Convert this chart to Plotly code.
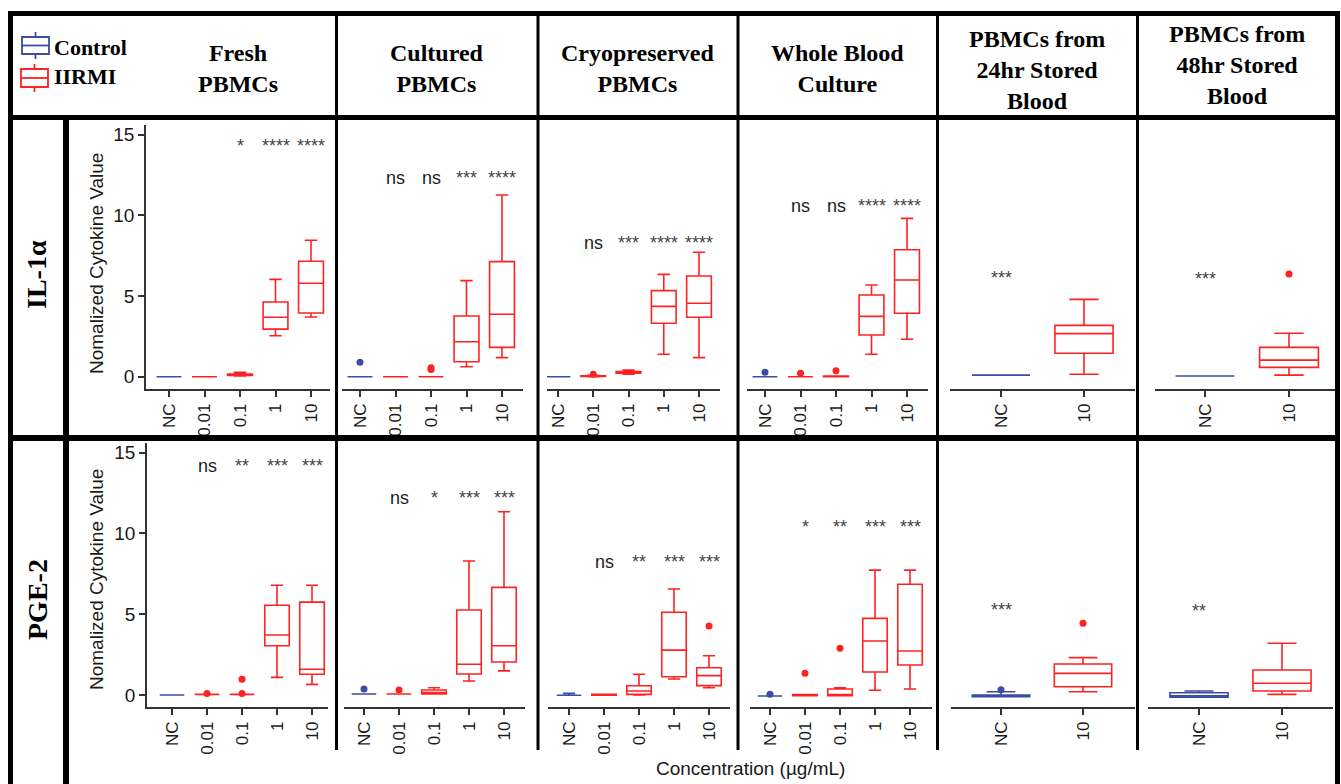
import plotly.graph_objects as go

W, H = 1341, 784

# ---------------- categories and labels ----------------
conc_full = ["NC", "0.01", "0.1", "1", "10"]
conc_short = ["NC", "10"]
sample_types = [["Fresh", "PBMCs"], ["Cultured", "PBMCs"], ["Cryopreserved", "PBMCs"],
                ["Whole Blood", "Culture"], ["PBMCs from", "24hr Stored", "Blood"],
                ["PBMCs from", "48hr Stored", "Blood"]]
cytokines = ["IL-1α", "PGE-2"]
group_names = ["Control", "IIRMI"]

# ---------------- box summaries ----------------
# one row per concentration: [lower whisker, Q1, median, Q3, upper whisker]
il1a_fresh = [[0, 0, 0, 0, 0], [0, 0, 0, 0, 0], [0.05, 0.07, 0.12, 0.17, 0.27],
              [2.54, 2.95, 3.68, 4.63, 6.03], [3.70, 3.95, 5.79, 7.15, 8.45]]
il1a_cultured = [[0, 0, 0, 0, 0], [0, 0, 0, 0, 0], [0, 0, 0, 0, 0],
                 [0.62, 0.93, 2.17, 3.76, 5.95], [1.18, 1.82, 3.87, 7.13, 11.26]]
il1a_cryo = [[0, 0, 0, 0, 0], [0, 0.02, 0.04, 0.06, 0.08], [0.15, 0.22, 0.27, 0.32, 0.41],
             [1.39, 3.31, 4.36, 5.33, 6.34], [1.18, 3.68, 4.55, 6.24, 7.71]]
il1a_whole = [[0, 0, 0, 0, 0], [0, 0, 0, 0, 0], [0, 0, 0, 0.04, 0.04],
              [1.39, 2.58, 3.74, 5.06, 5.68], [2.32, 3.93, 5.99, 7.87, 9.81]]
il1a_24hr = [[0.1, 0.1, 0.1, 0.1, 0.1], [0.15, 1.45, 2.67, 3.18, 4.79]]
il1a_48hr = [[0.04, 0.04, 0.04, 0.04, 0.04], [0.10, 0.58, 1.03, 1.82, 2.69]]

pge2_fresh = [[0, 0, 0, 0, 0], [0.04, 0.04, 0.04, 0.04, 0.04], [0.04, 0.04, 0.04, 0.04, 0.04],
              [1.09, 3.05, 3.71, 5.55, 6.79], [0.66, 1.28, 1.59, 5.75, 6.79]]
pge2_cultured = [[0.06, 0.06, 0.06, 0.06, 0.06], [0.06, 0.06, 0.06, 0.06, 0.06],
                 [0.06, 0.06, 0.15, 0.31, 0.45],
                 [0.87, 1.30, 1.90, 5.26, 8.29], [1.49, 2.04, 3.05, 6.66, 11.34]]
pge2_cryo = [[-0.02, -0.02, -0.02, -0.02, 0.1], [-0.02, -0.02, 0, 0.05, 0.05],
             [0, 0.04, 0.25, 0.57, 1.28],
             [0.99, 1.13, 2.78, 5.12, 6.56], [0.45, 0.58, 1.20, 1.69, 2.43]]
pge2_whole = [[-0.06, -0.06, -0.06, -0.06, -0.06], [-0.05, -0.05, 0, 0.03, 0.03],
              [-0.04, -0.04, 0.02, 0.37, 0.45],
              [0.29, 1.42, 3.34, 4.74, 7.73], [0.37, 1.86, 2.72, 6.85, 7.73]]
pge2_24hr = [[-0.1, -0.1, -0.06, 0.0, 0.2], [0.2, 0.51, 1.34, 1.92, 2.31]]
pge2_48hr = [[-0.14, -0.14, -0.05, 0.14, 0.25], [0.04, 0.25, 0.73, 1.55, 3.20]]

# ---------------- outlying points: (concentration, value) ----------------
il1a_fresh_out = []
il1a_cultured_out = [("NC", 0.89), ("0.1", 0.45), ("0.1", 0.55)]
il1a_cryo_out = [("0.01", 0.15)]
il1a_whole_out = [("NC", 0.27), ("0.01", 0.21), ("0.1", 0.37)]
il1a_24hr_out = []
il1a_48hr_out = [("10", 6.36)]

pge2_fresh_out = [("0.01", 0.1), ("0.1", 0.1), ("0.1", 0.97)]
pge2_cultured_out = [("NC", 0.37), ("0.01", 0.31)]
pge2_cryo_out = [("10", 4.27)]
pge2_whole_out = [("NC", 0.04), ("0.01", 1.34), ("0.1", 2.89)]
pge2_24hr_out = [("NC", 0.33), ("10", 4.44)]
pge2_48hr_out = []

# ---------------- significance labels and their heights ----------------
il1a_sig = [["", "", "*", "****", "****"], ["", "ns", "ns", "***", "****"],
            ["", "ns", "***", "****", "****"], ["", "ns", "ns", "****", "****"],
            ["***", ""], ["***", ""]]
il1a_sig_y = [14.32, 12.31, 8.30, 10.59, 6.13, 6.03]
pge2_sig = [["", "ns", "**", "***", "***"], ["", "ns", "*", "***", "***"],
            ["", "ns", "**", "***", "***"], ["", "*", "**", "***", "***"],
            ["***", ""], ["**", ""]]
pge2_sig_y = [14.17, 12.17, 8.25, 10.38, 5.26, 5.20]

panels = [
    [il1a_fresh, il1a_cultured, il1a_cryo, il1a_whole, il1a_24hr, il1a_48hr],
    [pge2_fresh, pge2_cultured, pge2_cryo, pge2_whole, pge2_24hr, pge2_48hr],
]
outliers = [
    [il1a_fresh_out, il1a_cultured_out, il1a_cryo_out, il1a_whole_out, il1a_24hr_out, il1a_48hr_out],
    [pge2_fresh_out, pge2_cultured_out, pge2_cryo_out, pge2_whole_out, pge2_24hr_out, pge2_48hr_out],
]
sig_labels = [il1a_sig, pge2_sig]
sig_heights = [il1a_sig_y, pge2_sig_y]

# ---------------- styling / geometry (pixels) ----------------
BLUE = "#3b4ca2"
RED = "#ff2222"
AXIS = "#333333"
TXT = "#1a1a1a"

row_plot_y = [(125, 389), (443, 707)]             # top / bottom of each row's plot area
row_zero = [(376.7, 16.14), (695.0, 16.16)]        # pixel of y=0 and pixels per unit
panel_x = [[(146, 330), (342, 523), (547, 720), (747, 928), (950, 1135), (1155, 1335)],
           [(147, 328), (344, 525), (548, 730), (750, 932), (951, 1135), (1148, 1333)]]
tick_span = [[(169, 311), (360, 502), (558, 699), (765, 907), (1001, 1084), (1205, 1289)],
             [(172, 312), (364, 504), (569, 709), (770, 910), (1001, 1083), (1199, 1282)]]


def px(x):
    return x / W


def py(y):
    return 1 - y / H


def paper_text(x, y, text, size, family="Arial", angle=0, xanchor="center", color=TXT):
    return dict(x=px(x), y=py(y), xref="paper", yref="paper", text=text,
                xanchor=xanchor, yanchor="middle", textangle=angle, showarrow=False,
                font=dict(family=family, size=size, color=color))


fig = go.Figure()
layout = dict(
    width=W, height=H, margin=dict(l=0, r=0, t=0, b=0),
    paper_bgcolor="white", plot_bgcolor="white", showlegend=False,
    shapes=[], annotations=[],
)

k = 0
for r in range(2):
    top, bot = row_plot_y[r]
    zero, ppu = row_zero[r]
    yr = [(zero - bot) / ppu, (zero - top) / ppu]
    for c in range(6):
        k += 1
        xa = "x" if k == 1 else f"x{k}"
        ya = "y" if k == 1 else f"y{k}"
        cats = conc_full if c < 4 else conc_short
        stats = panels[r][c]

        # control (NC) and treated boxes
        for names, rows_, col in ((cats[:1], stats[:1], BLUE), (cats[1:], stats[1:], RED)):
            fig.add_trace(go.Box(
                x=names,
                lowerfence=[s[0] for s in rows_], q1=[s[1] for s in rows_],
                median=[s[2] for s in rows_], q3=[s[3] for s in rows_],
                upperfence=[s[4] for s in rows_],
                line=dict(color=col, width=1.6), fillcolor="white",
                width=0.7, xaxis=xa, yaxis=ya, hoverinfo="skip",
            ))
        # outlying points
        for col, keep in ((BLUE, lambda n: n == "NC"), (RED, lambda n: n != "NC")):
            pts = [p for p in outliers[r][c] if keep(p[0])]
            if pts:
                fig.add_trace(go.Scatter(
                    x=[p[0] for p in pts], y=[p[1] for p in pts], mode="markers",
                    marker=dict(color=col, size=7), xaxis=xa, yaxis=ya, hoverinfo="skip",
                ))

        x0, x1 = panel_x[r][c]
        f, l = tick_span[r][c]
        s = (l - f) / (len(cats) - 1)
        xkey = "xaxis" if k == 1 else f"xaxis{k}"
        ykey = "yaxis" if k == 1 else f"yaxis{k}"
        layout[xkey] = dict(
            domain=[px(x0), px(x1)], anchor=ya, type="category",
            categoryorder="array", categoryarray=cats,
            range=[(x0 - f) / s, (x1 - f) / s],
            showline=True, linecolor=AXIS, linewidth=1.5, mirror=False,
            ticks="outside", ticklen=6, tickwidth=1.5, tickcolor=AXIS,
            tickangle=-90, tickfont=dict(family="Arial", size=17, color=TXT),
            showgrid=False, zeroline=False,
        )
        ycfg = dict(domain=[py(bot), py(top)], anchor=xa, range=yr,
                    showgrid=False, zeroline=False)
        if c == 0:
            ycfg.update(showline=True, linecolor=AXIS, linewidth=1.5,
                        ticks="outside", ticklen=6, tickwidth=1.5, tickcolor=AXIS,
                        tickvals=[0, 5, 10, 15],
                        tickfont=dict(family="Arial", size=19, color=TXT))
        else:
            ycfg.update(visible=False)
        layout[ykey] = ycfg

        # significance labels
        for i, lab in enumerate(sig_labels[r][c]):
            if lab:
                layout["annotations"].append(dict(
                    x=i, y=sig_heights[r][c], xref=xa, yref=ya, text=lab,
                    showarrow=False, xanchor="center", yanchor="middle",
                    font=dict(family="Arial", size=18,
                              color="#222" if lab == "ns" else "#444"),
                ))

# y-axis titles
for yc in (264, 580):
    layout["annotations"].append(paper_text(96, yc, "Nomalized Cytokine Value", 19, angle=-90))

# x-axis title
layout["annotations"].append(paper_text(750, 768, "Concentration (µg/mL)", 19))

# row labels
for lab, yc in zip(cytokines, (275, 600)):
    layout["annotations"].append(paper_text(37, yc, f"<b>{lab}</b>", 28,
                                            family="Liberation Serif", angle=-90, color="black"))

# column headers (one wrapped text block per cell)
head_x = [238, 437, 638, 837, 1037, 1237]
head_y = [69, 69, 68, 68, 70, 65]
for lines, hx, hy in zip(sample_types, head_x, head_y):
    text = "<br>".join(f"<b>{line}</b>" for line in lines)
    layout["annotations"].append(paper_text(hx, hy, text, 24,
                                            family="Liberation Serif", color="black"))

# legend keys
for name, col, (bx0, bx1, by0, by1, ty) in zip(
        group_names, (BLUE, RED), ((22, 49, 37, 54, 47), (21, 48, 69, 87, 77))):
    cx = (bx0 + bx1) / 2
    layout["shapes"] += [
        dict(type="rect", xref="paper", yref="paper", x0=px(bx0), x1=px(bx1),
             y0=py(by1), y1=py(by0), line=dict(color=col, width=1.8), fillcolor="white"),
        dict(type="line", xref="paper", yref="paper", x0=px(bx0), x1=px(bx1),
             y0=py((by0 + by1) / 2), y1=py((by0 + by1) / 2), line=dict(color=col, width=1.8)),
        dict(type="line", xref="paper", yref="paper", x0=px(cx), x1=px(cx),
             y0=py(by0 - 5), y1=py(by0), line=dict(color=col, width=1.8)),
        dict(type="line", xref="paper", yref="paper", x0=px(cx), x1=px(cx),
             y0=py(by1), y1=py(by1 + 5), line=dict(color=col, width=1.8)),
    ]
    layout["annotations"].append(paper_text(52, ty, f"<b>{name}</b>", 22,
                                            family="Liberation Serif", xanchor="left",
                                            color="black"))


# table grid
def hline(y, x0, x1, w):
    return dict(type="line", xref="paper", yref="paper", x0=px(x0), x1=px(x1),
                y0=py(y), y1=py(y), line=dict(color="black", width=w))


def vline(x, y0, y1, w):
    return dict(type="line", xref="paper", yref="paper", x0=px(x), x1=px(x),
                y0=py(y0), y1=py(y1), line=dict(color="black", width=w))


layout["shapes"] += [
    hline(13.5, 8, 1340, 5),
    hline(117.5, 8, 1340, 5),
    hline(438, 8, 1340, 6),
    vline(10.5, 11, 784, 5),
    vline(1337.5, 11, 784, 5),
    vline(66, 117, 784, 6),
]
for vx in (336.5, 538, 738, 937.5, 1137.5):
    layout["shapes"].append(vline(vx, 13, 117, 3))
    layout["shapes"].append(vline(vx, 117, 750, 3))

fig.update_layout(**layout)
fig.write_html("out.html")
